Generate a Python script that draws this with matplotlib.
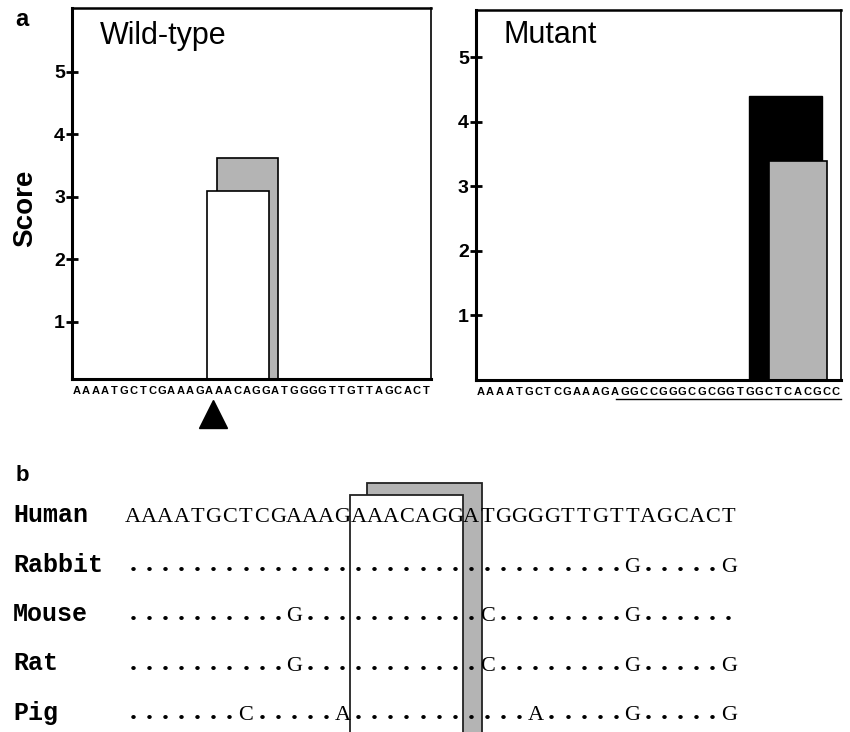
import matplotlib
matplotlib.use("Agg")
import matplotlib.pyplot as plt

plt.rcParams['font.family'] = ['Liberation Sans', 'DejaVu Sans']

# --- data ---
wt_seq = "AAAATGCTCGAAAGAAACAGGATGGGGTTGTTAGCACT"
mut_seq = "AAAATGCTCGAAAGAGGCCGGGCGCGGTGGCTCACGCC"
mut_start = 15          # first inserted base (underlined)
site_pos = 14.9         # arrowhead under wild-type

# bars in panel a: left edge, right edge, score
wt_gray = (15.4, 21.8, 3.62)
wt_white = (14.3, 20.85, 3.10)
mut_black = (28.5, 36.1, 4.40)
mut_gray = (30.5, 36.6, 3.39)

species = ["Human", "Rabbit", "Mouse", "Rat", "Pig"]
aligned = [
    "AAAATGCTCGAAAGAAACAGGATGGGGTTGTTAGCACT",
    "...............................G.....G",
    "..........G...........C........G......",
    "..........G...........C........G.....G",
    ".......C.....A...........A.....G.....G",
]
site_white = (14.0, 21.0)
site_gray = (15.0, 22.2)

GRAY = "#b4b4b4"

fig = plt.figure(figsize=(8.5, 7.32), dpi=100)


def style_axes(ax, ylim):
    ax.set_xlim(0, len(wt_seq))
    ax.set_ylim(*ylim)
    for side in ['left', 'bottom']:
        ax.spines[side].set_linewidth(2.2)
    ax.spines['top'].set_linewidth(1.8)
    ax.spines['right'].set_linewidth(1.2)
    ax.set_yticks([1, 2, 3, 4, 5])
    ax.tick_params(axis='y', direction='inout', length=8, width=2, pad=1,
                   labelsize=14)
    for t in ax.get_yticklabels():
        t.set_fontweight('bold')


def seq_ticks(ax, seq):
    ax.set_xticks([i + 0.5 for i in range(len(seq))])
    ax.set_xticklabels(list(seq), fontsize=8, fontweight='bold')
    ax.tick_params(axis='x', length=0, pad=5)


# ---- panel a, wild-type ----
ax1 = fig.add_axes([72 / 850, 1 - 379 / 732, 359 / 850, 371 / 732])
style_axes(ax1, (0.088, 6.02))
ax1.bar(wt_gray[0], wt_gray[2], width=wt_gray[1] - wt_gray[0], align='edge',
        color=GRAY, edgecolor='black', linewidth=1.2)
ax1.bar(wt_white[0], wt_white[2], width=wt_white[1] - wt_white[0], align='edge',
        color='white', edgecolor='black', linewidth=1.2)
seq_ticks(ax1, wt_seq)
ax1.plot([site_pos], [-0.465], marker='^', ms=19.5, color='black', clip_on=False)
ax1.text(0.078, 0.925, "Wild-type", transform=ax1.transAxes, fontsize=22,
         va='center', ha='left')
ax1.set_ylabel("Score", fontsize=20, fontweight='bold')
ax1.yaxis.set_label_coords(-0.095, 0.46)
fig.text(22 / 850, 1 - 20 / 732, "a", fontsize=17, fontweight='bold',
         ha='center', va='center')

# ---- panel a, mutant ----
ax2 = fig.add_axes([475.7 / 850, 1 - 380 / 732, 365 / 850, 370 / 732])
style_axes(ax2, (0, 5.73))
ax2.bar(mut_black[0], mut_black[2], width=mut_black[1] - mut_black[0],
        align='edge', color='black', edgecolor='black', linewidth=1.0)
ax2.bar(mut_gray[0], mut_gray[2], width=mut_gray[1] - mut_gray[0],
        align='edge', color=GRAY, edgecolor='black', linewidth=1.2)
seq_ticks(ax2, mut_seq)
ax2.plot([mut_start - 0.4, len(mut_seq)], [-0.051, -0.051], color='black',
         lw=1.0, transform=ax2.get_xaxis_transform(), clip_on=False)
ax2.text(0.075, 0.932, "Mutant", transform=ax2.transAxes, fontsize=22,
         va='center', ha='left')

# ---- panel b, alignment ----
axb = fig.add_axes([0, 0, 1, 262 / 732])
axb.set_xlim(-125 / 16.1, (850 - 125) / 16.1)
axb.set_ylim((732 - 515) / 49.5, (470 - 515) / 49.5)
axb.axis('off')

axb.bar(site_gray[0], 8, bottom=-0.646, width=site_gray[1] - site_gray[0],
        align='edge', color=GRAY, edgecolor='#222222', linewidth=1.3)
axb.bar(site_white[0], 8, bottom=-0.404, width=site_white[1] - site_white[0],
        align='edge', color='white', edgecolor='#222222', linewidth=1.3)

for row, (name, seq) in enumerate(zip(species, aligned)):
    axb.text(-6.96, row, name, fontsize=18, fontweight='bold',
             family='Liberation Mono', ha='left', va='center')
    for i, ch in enumerate(seq):
        if ch == '.':
            axb.text(i + 0.5, row + 0.13, '.', fontsize=20, fontweight='bold',
                     family='Liberation Serif', ha='center', va='baseline')
        else:
            axb.text(i + 0.5, row + 0.15, ch, fontsize=16,
                     family='Liberation Serif', ha='center', va='baseline')

fig.text(22 / 850, 1 - 476 / 732, "b", fontsize=16, fontweight='bold',
         ha='center', va='center')

fig.savefig("out.png", dpi=100)
